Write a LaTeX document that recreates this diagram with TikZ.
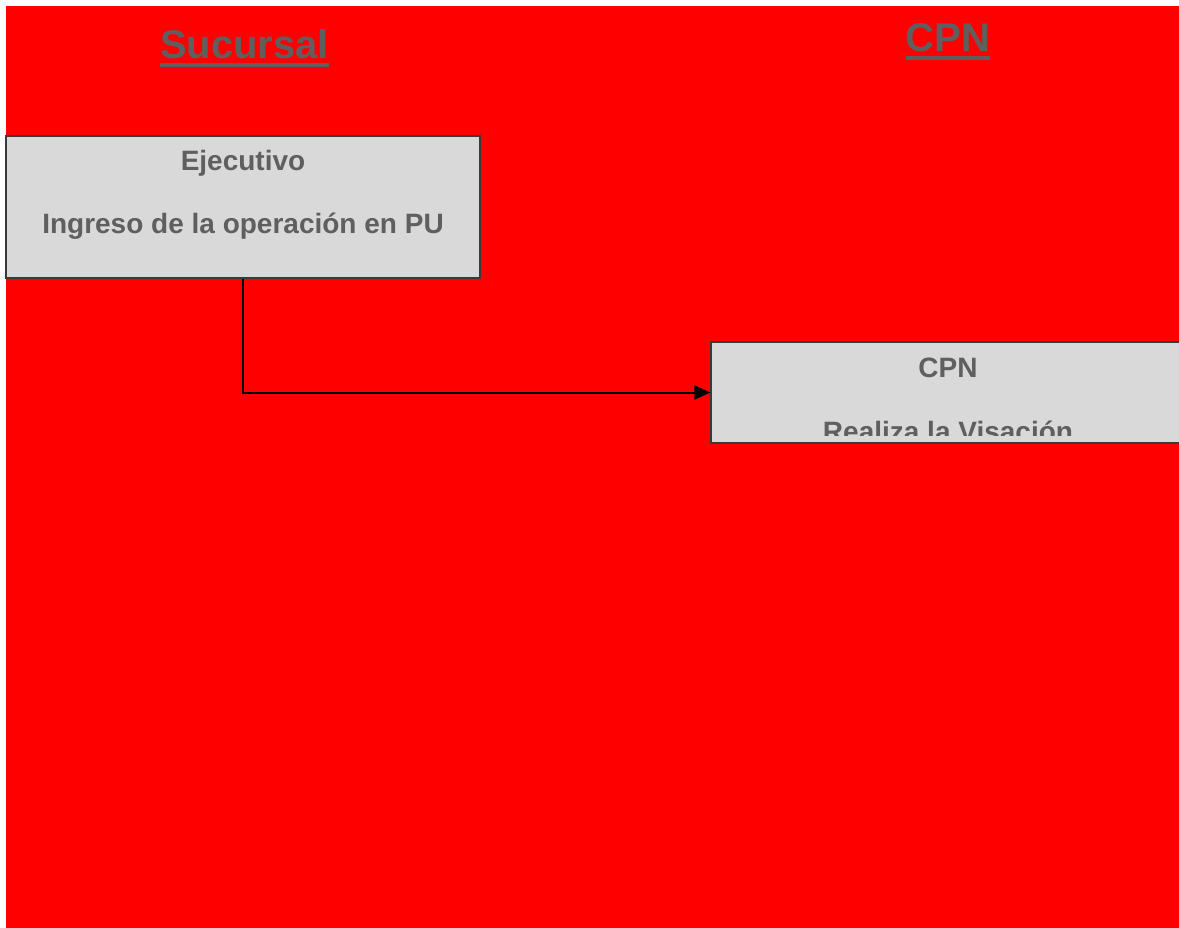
\documentclass[tikz,border=0pt]{standalone}
\usepackage{fontspec}
\setmainfont{Liberation Sans}
\usetikzlibrary{arrows.meta}
\definecolor{lane}{HTML}{FF0000}
\definecolor{boxfill}{HTML}{D9D9D9}
\definecolor{boxline}{HTML}{3A3A3A}
\definecolor{ink}{HTML}{5F5F5F}
\tikzset{
  procbox/.style={draw=boxline, line width=1.2pt, fill=boxfill, minimum width=474pt, inner sep=0pt},
  boxtext/.style={text=ink, font=\bfseries\fontsize{28}{32}\selectfont, inner sep=0pt, anchor=base},
  title/.style={text=ink, font=\bfseries\fontsize{40}{44}\selectfont, inner sep=0pt, anchor=base},
  uline/.style={draw=ink, line width=4.5pt},
  flow/.style={draw=black, line width=2pt, -{Triangle[length=16pt,width=14pt]}}
}
\begin{document}
\begin{tikzpicture}[x=1pt, y=-1pt]
  \useasboundingbox (0,0) rectangle (1179,928);
  % background
  \fill[white] (0,0) rectangle (1179,928);
  \fill[lane] (6,6) rectangle (1179,928);

  % lane titles
  \node[title] (tsuc) at (244.5,59) {Sucursal};
  \draw[uline] ([yshift=-6pt]tsuc.base west) -- ([yshift=-6pt]tsuc.base east);
  \node[title] (tcpn) at (948,52) {CPN};
  \draw[uline] ([yshift=-6pt]tcpn.base west) -- ([yshift=-6pt]tcpn.base east);

  % process boxes
  \node[procbox, minimum height=142pt] (b1) at (243,207) {};
  \node[boxtext] (b1a) at (243,171) {Ejecutivo};
  \node[boxtext] (b1b) at (243,234) {Ingreso de la operación en PU};

  \node[procbox, minimum height=101pt] (b2) at (948,392.5) {};
  \begin{scope}
    % text area of the box stops short of its lower edge
    \clip ([shift={(0.6pt,8pt)}]b2.south west) rectangle ([shift={(-0.6pt,-0.6pt)}]b2.north east);
    \node[boxtext] (b2a) at (948,377.5) {CPN};
    \node[boxtext] (b2b) at (948,441) {Realiza la Visación};
  \end{scope}

  % connector
  \draw[flow] (b1.south) |- (b2.west);
\end{tikzpicture}
\end{document}
